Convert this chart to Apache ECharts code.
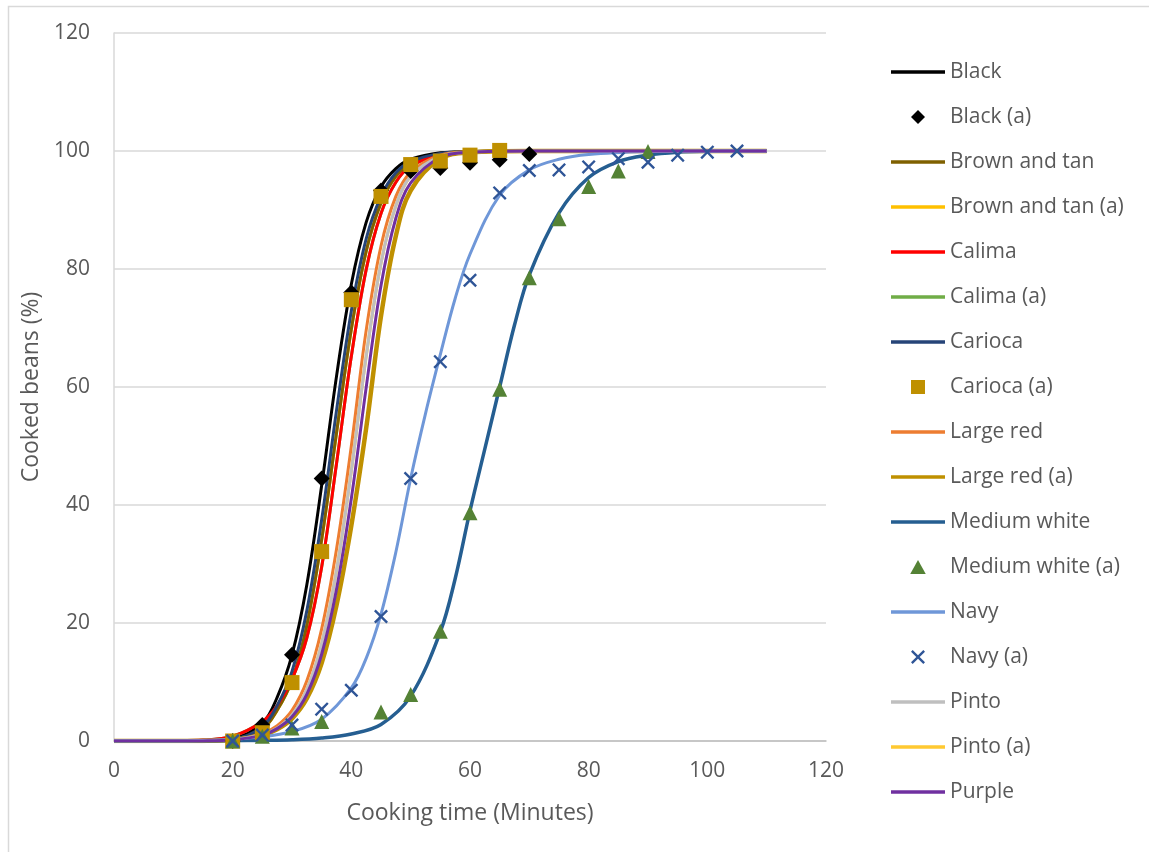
<!DOCTYPE html>
<html>
<head>
<meta charset="utf-8">
<script src="https://cdn.jsdelivr.net/npm/echarts@6/dist/echarts.min.js"></script>
<style>
  html, body { margin: 0; padding: 0; background: #ffffff; }
  #chart { width: 1149px; height: 852px; }
</style>
</head>
<body>
<div id="chart"></div>
<script>
// Fitted cooking curves (percentage of cooked beans vs. cooking time)
const fitTimes = [0, 10, 15, 20, 25, 27.5, 30, 32.5, 35, 37.5, 40, 42.5, 45, 47.5, 50, 55, 60, 70, 80, 90, 100, 110];
const blackFit     = [0, 0.01, 0.05, 0.4, 3.0, 7.4, 14.6, 26.5, 43.3, 61.8, 77.4, 87.9, 93.9, 97.0, 98.6, 99.7, 99.9, 100, 100, 100, 100, 100];
const brownTanFit  = [0, 0.01, 0.04, 0.3, 2.0, 5.2, 10.3, 19.6, 34.1, 52.2, 69.8, 83.0, 91.2, 95.7, 97.9, 99.5, 99.9, 100, 100, 100, 100, 100];
const brownTanAFit = [0, 0.01, 0.04, 0.3, 2.0, 5.2, 10.3, 19.6, 34.1, 52.2, 69.8, 83.0, 91.2, 95.7, 97.9, 99.5, 99.9, 100, 100, 100, 100, 100];
const calimaFit    = [0, 0.05, 0.15, 0.8, 3.3, 6.0, 10.5, 17.5, 29.5, 47.0, 65.2, 79.9, 89.4, 94.7, 97.4, 99.4, 99.8, 100, 100, 100, 100, 100];
const calimaAFit   = [0, 0.05, 0.15, 0.8, 3.3, 6.0, 10.5, 17.5, 29.5, 47.0, 65.2, 79.9, 89.4, 94.7, 97.4, 99.4, 99.8, 100, 100, 100, 100, 100];
const cariocaFit   = [0, 0.01, 0.05, 0.3, 2.4, 6.0, 11.8, 22.1, 37.5, 56.0, 72.9, 85.1, 92.3, 96.3, 98.2, 99.6, 99.9, 100, 100, 100, 100, 100];
const largeRedFit  = [0, 0, 0.02, 0.2, 1.3, 2.6, 5.2, 10.2, 19.0, 32.5, 50.0, 69.6, 83.9, 92.3, 96.4, 99.3, 99.85, 100, 100, 100, 100, 100];
const largeRedAFit = [0, 0, 0.02, 0.2, 1.0, 2.0, 3.8, 7.2, 13.2, 23.0, 36.5, 53.0, 72.0, 85.6, 93.3, 98.7, 99.75, 100, 100, 100, 100, 100];
const pintoFit     = [0, 0, 0.02, 0.2, 1.1, 2.2, 4.4, 8.7, 16.5, 28.9, 45.8, 65.2, 81.0, 90.7, 95.7, 99.1, 99.8, 100, 100, 100, 100, 100];
const pintoAFit    = [0, 0, 0.02, 0.2, 1.1, 2.2, 4.4, 8.7, 16.5, 28.9, 45.8, 65.2, 81.0, 90.7, 95.7, 99.1, 99.8, 100, 100, 100, 100, 100];
const purpleFit    = [0, 0, 0.02, 0.2, 1.0, 2.1, 4.1, 7.9, 14.7, 25.7, 41.1, 59.9, 77.2, 88.6, 94.6, 98.9, 99.8, 100, 100, 100, 100, 100];

const mediumWhiteTimes = [0, 10, 20, 25, 30, 35, 40, 45, 50, 55, 57.5, 60, 62.5, 65, 67.5, 70, 75, 80, 85, 90, 95, 100, 110];
const mediumWhiteFit   = [0, 0, 0.05, 0.1, 0.2, 0.5, 1.2, 2.8, 7.6, 18.5, 27.5, 39, 49.5, 60, 70.5, 79, 89.5, 95.5, 98.2, 99.3, 99.8, 99.95, 100];

const navyTimes = [0, 10, 20, 25, 30, 35, 40, 42.5, 45, 47.5, 50, 52.5, 55, 57.5, 60, 65, 70, 75, 80, 90, 100, 110];
const navyFit   = [0, 0, 0.3, 0.7, 1.6, 3.7, 9, 14, 21.5, 32, 44.5, 55.5, 65.5, 75, 82.5, 92.5, 96.8, 98.6, 99.4, 99.9, 100, 100];

// Observed points
const blackObsTimes = [20, 25, 30, 35, 40, 45, 50, 55, 60, 65, 70];
const blackObs      = [0, 2.7, 14.6, 44.5, 76, 93.3, 96.6, 97.1, 98.0, 98.5, 99.5];
const cariocaObsTimes = [20, 25, 30, 35, 40, 45, 50, 55, 60, 65];
const cariocaObs      = [0, 1.4, 9.9, 32.1, 74.8, 92.3, 97.7, 98.3, 99.3, 100.1];
const mediumWhiteObsTimes = [20, 25, 30, 35, 45, 50, 55, 60, 65, 70, 75, 80, 85, 90];
const mediumWhiteObs      = [0, 0.8, 2.2, 3.3, 4.9, 7.9, 18.6, 38.7, 59.6, 78.5, 88.5, 94.0, 96.6, 99.9];
const navyObsTimes = [20, 25, 30, 35, 40, 45, 50, 55, 60, 65, 70, 75, 80, 85, 90, 95, 100, 105];
const navyObs      = [0, 1.0, 2.7, 5.4, 8.6, 21.1, 44.5, 64.3, 78.1, 92.9, 96.7, 96.8, 97.3, 98.7, 98.1, 99.3, 99.8, 100];

const FONT = "'Open Sans', 'Liberation Sans', sans-serif";
const TEXT = '#595959';

// Marker shapes (paths keep their aspect ratio in the legend)
const DIAMOND = 'path://M5,0 L10,5 L5,10 L0,5 Z';
const SQUARE = 'path://M0,0 L10,0 L10,10 L0,10 Z';
const TRIANGLE = 'path://M5,0 L10,9 L0,9 Z';
const CROSS = 'path://M0,1.2 L1.2,0 L5,3.8 L8.8,0 L10,1.2 L6.2,5 L10,8.8 L8.8,10 L5,6.2 L1.2,10 L0,8.8 L3.8,5 Z';
const LEGEND_LINE = 'path://M0,0 L54,0 L54,3.5 L0,3.5 Z';

function pairs(xs, ys) { return xs.map((x, i) => [x, ys[i]]); }

function curve(name, xs, ys, color, width, z) {
  return {
    name, type: 'line', data: pairs(xs, ys), symbol: 'none', smooth: 0.35,
    lineStyle: { color, width }, itemStyle: { color }, z: z || 2, silent: true,
    legendIcon: LEGEND_LINE
  };
}
function points(name, xs, ys, symbol, size, color) {
  return {
    name, type: 'scatter', data: pairs(xs, ys), symbol, symbolSize: size,
    itemStyle: { color, opacity: 1 }, z: 4, silent: true,
    legendIcon: symbol
  };
}

const series = [
  curve('Black', fitTimes, blackFit, '#000000', 3),
  points('Black (a)', blackObsTimes, blackObs, DIAMOND, 16, '#000000'),
  curve('Brown and tan', fitTimes, brownTanFit, '#7F6000', 3),
  curve('Brown and tan (a)', fitTimes, brownTanAFit, '#FFC000', 3, 1),
  curve('Calima', fitTimes, calimaFit, '#FF0000', 3),
  curve('Calima (a)', fitTimes, calimaAFit, '#70AD47', 3, 1),
  curve('Carioca', fitTimes, cariocaFit, '#264478', 3),
  points('Carioca (a)', cariocaObsTimes, cariocaObs, SQUARE, 15, '#BF9000'),
  curve('Large red', fitTimes, largeRedFit, '#ED7D31', 3),
  curve('Large red (a)', fitTimes, largeRedAFit, '#BF9000', 4.5),
  curve('Medium white', mediumWhiteTimes, mediumWhiteFit, '#255E91', 3.5),
  points('Medium white (a)', mediumWhiteObsTimes, mediumWhiteObs, TRIANGLE, 15, '#548235'),
  curve('Navy', navyTimes, navyFit, '#6F97D8', 3),
  points('Navy (a)', navyObsTimes, navyObs, CROSS, 14, '#2F5597'),
  curve('Pinto', fitTimes, pintoFit, '#BFBFBF', 3),
  curve('Pinto (a)', fitTimes, pintoAFit, '#FFC931', 3, 1),
  curve('Purple', fitTimes, purpleFit, '#7030A0', 3)
];

const chart = echarts.init(document.getElementById('chart'), null, { renderer: 'canvas' });
chart.setOption({
  backgroundColor: '#ffffff',
  animation: false,
  textStyle: { fontFamily: FONT },
  grid: { left: 114, top: 33, width: 712, height: 708 },
  xAxis: {
    type: 'value', min: 0, max: 120, interval: 20,
    name: 'Cooking time (Minutes)', nameLocation: 'middle', nameGap: 61,
    nameTextStyle: { fontFamily: FONT, fontSize: 23, color: TEXT },
    axisLine: { show: true, lineStyle: { color: '#BFBFBF', width: 1.5 } },
    axisTick: { show: false },
    splitLine: { show: false },
    axisLabel: { fontFamily: FONT, fontSize: 21, color: TEXT, margin: 20 }
  },
  yAxis: {
    type: 'value', min: 0, max: 120, interval: 20,
    name: 'Cooked beans (%)', nameLocation: 'middle', nameGap: 68,
    nameTextStyle: { fontFamily: FONT, fontSize: 23, color: TEXT },
    axisLine: { show: true, lineStyle: { color: '#D9D9D9', width: 1.5 } },
    axisTick: { show: false },
    splitLine: { show: true, lineStyle: { color: '#D9D9D9', width: 1.5 } },
    axisLabel: { fontFamily: FONT, fontSize: 21, color: TEXT, margin: 24 }
  },
  legend: {
    orient: 'vertical', left: 891, top: 60, padding: 0,
    itemWidth: 54, itemHeight: 14, itemGap: 21,
    textStyle: { fontFamily: FONT, fontSize: 21, color: TEXT, lineHeight: 24 },
    selectedMode: false,
    data: series.map(s => ({ name: s.name, icon: s.legendIcon }))
  },
  graphic: [{
    type: 'rect', left: 6, top: 4, silent: true,
    shape: { width: 1200, height: 900 },
    style: { fill: 'none', stroke: '#D9D9D9', lineWidth: 1.5 }
  }],
  series: series.map(({ legendIcon, ...s }) => s)
});
</script>
</body>
</html>
